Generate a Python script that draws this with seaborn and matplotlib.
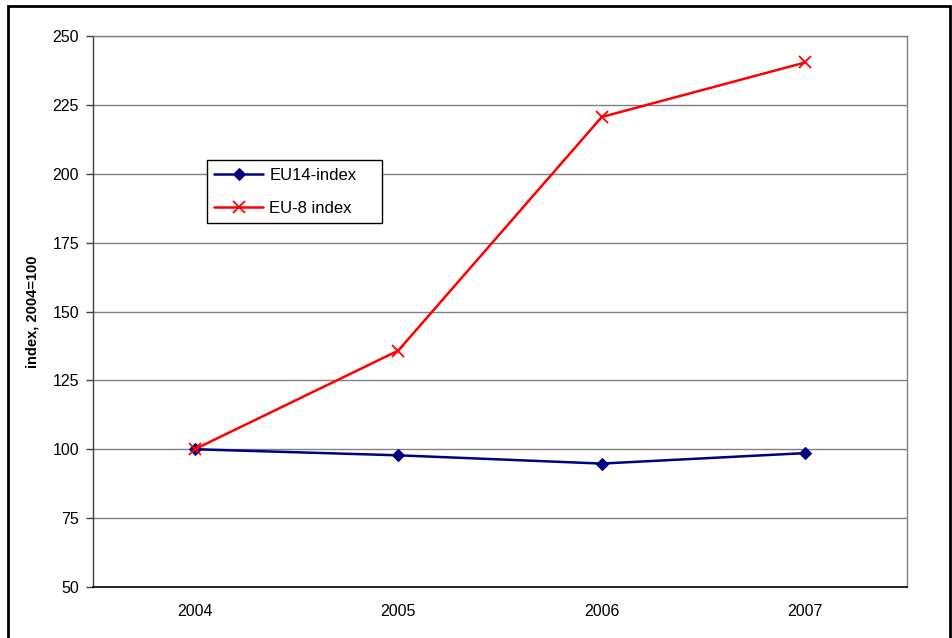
import pandas as pd
import matplotlib.pyplot as plt
import seaborn as sns
from matplotlib.patches import Rectangle

years = ["2004", "2005", "2006", "2007"]
eu14_index = [100, 97.8, 94.8, 98.6]
eu8_index = [100, 135.8, 220.6, 240.4]
y_ticks = [50, 75, 100, 125, 150, 175, 200, 225, 250]

df = pd.DataFrame({"year": years, "EU14-index": eu14_index, "EU-8 index": eu8_index})

sns.set_style("white")
plt.rcParams['font.family'] = ['Liberation Sans', 'DejaVu Sans']
plt.rcParams['text.color'] = 'black'
plt.rcParams['axes.labelcolor'] = 'black'
plt.rcParams['xtick.color'] = 'black'
plt.rcParams['ytick.color'] = 'black'

fig = plt.figure(figsize=(9.52, 6.38), dpi=100)
ax = fig.add_axes([93 / 952, 1 - 587 / 638, 814 / 952, 551 / 638])

sns.lineplot(data=df, x="year", y="EU14-index", ax=ax, color="#000080", linewidth=1.8,
             marker="D", markersize=6, markeredgecolor="#000080", label="EU14-index")
sns.lineplot(data=df, x="year", y="EU-8 index", ax=ax, color="#ff0000", linewidth=1.8,
             marker="x", markersize=8, markeredgewidth=1.3, markeredgecolor="#ff0000",
             label="EU-8 index")

ax.set_xlim(-0.5, len(years) - 0.5)
ax.set_ylim(50, 250)
ax.set_yticks(y_ticks)
ax.set_yticklabels([str(t) for t in y_ticks], fontsize=11.5)
ax.set_xticks([i - 0.5 for i in range(len(years) + 1)])
ax.set_xticklabels([])
ax.set_xticks(range(len(years)), minor=True)
ax.set_xticklabels(years, minor=True, fontsize=11.5)
ax.tick_params(axis="x", which="major", length=5, color="#808080", width=1)
ax.tick_params(axis="x", which="minor", length=0, pad=12)
ax.tick_params(axis="y", length=5, width=1, color="#404040", left=True, pad=5)
ax.yaxis.grid(True, color="#808080", linewidth=1)
ax.set_axisbelow(True)

for side in ["top", "right"]:
    ax.spines[side].set_color("#808080")
    ax.spines[side].set_linewidth(1)
ax.spines["left"].set_color("#404040")
ax.spines["bottom"].set_color("black")
ax.spines["left"].set_linewidth(1)
ax.spines["bottom"].set_linewidth(1.2)

ax.set_xlabel("")
ax.set_ylabel("index, 2004=100", fontsize=10.5, fontweight="bold", labelpad=9)

leg = ax.legend(loc="upper left", bbox_to_anchor=(0.14, 0.6624, 175 / 814, 62 / 551),
                mode="expand", borderaxespad=0,
                fontsize=12, frameon=True, fancybox=False, framealpha=1, edgecolor="black",
                handlelength=2.9, borderpad=0.45, labelspacing=1.1, handletextpad=0.4)
leg.get_frame().set_linewidth(1)

fig.patches.append(Rectangle((8 / 952, -0.02), 942 / 952, 1.02 - 6 / 638,
                             transform=fig.transFigure, fill=False,
                             edgecolor="black", linewidth=2))

fig.savefig("out.png", dpi=100)
plt.close(fig)
